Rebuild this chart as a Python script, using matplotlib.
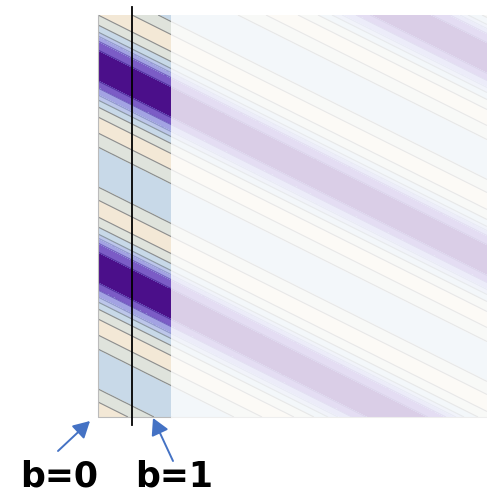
import numpy as np
import matplotlib
matplotlib.use("Agg")
import matplotlib.pyplot as plt
from matplotlib.colors import ListedColormap, BoundaryNorm
from matplotlib.patches import FancyArrowPatch, Rectangle

W, H = 487, 498
AX_L, AX_R, AX_T, AX_B = 98, 487, 15, 417

# one period of the stripe pattern, read along the left edge (offsets in image y)
band_edges = [50, 81, 88, 95, 100, 107, 117, 133, 147, 187, 200, 217, 227, 234, 238, 243, 252]
band_levels = [0, 1, 2, 3, 4, 5, 6, 5, 4, 5, 6, 5, 4, 3, 2, 1]
band_colors = ["#4b0f8a", "#7b5cc6", "#a3a3e3", "#bcc6ea", "#c8d9e8", "#dfe3dc", "#f3e8d6"]
line_colors = ["#4b2a9a", "#6a55b8", "#8a90c8", "#7f8a96", "#787c80", "#787c80"]
period = 202
slope = 0.5
panel_right = 171
line_x = 132
labels = ["b=0", "b=1"]
label_x = [59, 174]
label_y = [476, 476]

fig = plt.figure(figsize=(W / 100, H / 100), dpi=100)
ax = fig.add_axes([AX_L / W, 1 - AX_B / H, (AX_R - AX_L) / W, (AX_B - AX_T) / H])
ax.set_xlim(AX_L, AX_R)
ax.set_ylim(AX_B, AX_T)
ax.axis("off")

# knots: band centres hold the band level + .5, edges the shared boundary level
edges = np.array(band_edges, float)
levels = np.array(band_levels, float)
kx, kz = [], []
for i, lev in enumerate(levels):
    kx.append(edges[i]); kz.append(max(levels[i - 1], lev))
    kx.append((edges[i] + edges[i + 1]) / 2); kz.append(lev + 0.5)
kx = np.array(kx); kz = np.array(kz)

xs = np.linspace(AX_L, AX_R, 800)
ys = np.linspace(AX_T, AX_B, 1600)
X, Y = np.meshgrid(xs, ys)
phase = (Y - slope * (X - AX_L) - band_edges[0]) % period + band_edges[0]
Z = np.interp(phase, kx, kz, period=period)

cmap = ListedColormap(band_colors)
bounds = np.arange(len(band_colors) + 1)
ax.contourf(X, Y, Z, levels=bounds, cmap=cmap, norm=BoundaryNorm(bounds, cmap.N), antialiased=False)
ax.contour(X, Y, Z, levels=bounds[1:-1], colors=line_colors, linewidths=0.8, alpha=0.85)

# pale veil over everything right of the first column
ax.add_patch(Rectangle((panel_right, AX_T), AX_R - panel_right, AX_B - AX_T,
                       facecolor="white", alpha=0.8, edgecolor="none", zorder=3))
# faint frame
ax.plot([AX_L, AX_L, panel_right], [AX_T, AX_B, AX_B], color="#bbbbbb", lw=0.8, zorder=4, clip_on=False)
ax.plot([panel_right, AX_R], [AX_B, AX_B], color="#eeeeee", lw=0.8, zorder=4, clip_on=False)

ov = fig.add_axes([0, 0, 1, 1], facecolor="none")
ov.set_xlim(0, W); ov.set_ylim(H, 0); ov.axis("off")
ov.plot([line_x, line_x], [7, 425], color="black", lw=1.3)
for start, end in [((58, 451), (90, 421)), ((173, 461), (153, 418))]:
    ov.add_patch(FancyArrowPatch(start, end, arrowstyle="-|>,head_length=10,head_width=5.5",
                                 mutation_scale=1, color="#4472c4", lw=1.4, shrinkA=0, shrinkB=0))
for s, x, y in zip(labels, label_x, label_y):
    ov.text(x, y, s, ha="center", va="center", fontsize=25, family="DejaVu Sans", color="black", fontweight="bold")
fig.savefig("out.png", dpi=100)
